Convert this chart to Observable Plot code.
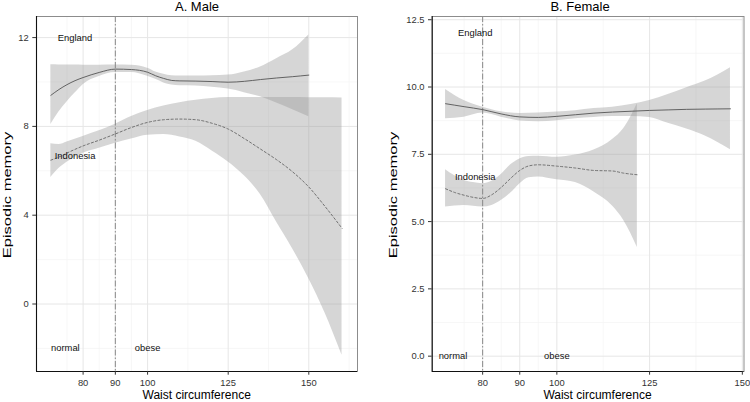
<!DOCTYPE html>
<html><head><meta charset="utf-8">
<script src="https://cdn.jsdelivr.net/npm/d3@7"></script>
<script src="https://cdn.jsdelivr.net/npm/@observablehq/plot@0.6"></script>
<style>
body{margin:0;background:#fff;font-family:"Liberation Sans",Arial,sans-serif;}
#wrap{position:relative;width:750px;height:402px;overflow:hidden;background:#fff}
#wrap svg{position:absolute;top:0}
.lab{position:absolute;white-space:nowrap;color:#000;line-height:1.117}
.rot{line-height:1}
</style></head><body><div id="wrap"></div>
<script>
// ---------- Male panel data ----------
const maleEngX   = [70, 72.5, 75, 77.5, 80, 85, 90, 95, 100, 102.5, 105, 107.5, 110, 115, 120, 125, 130, 135, 140, 145, 150];
const maleEngFit = [9.40, 9.66, 9.88, 10.06, 10.20, 10.43, 10.58, 10.56, 10.44, 10.28, 10.16, 10.07, 10.05, 10.04, 10.02, 9.99, 10.03, 10.11, 10.18, 10.24, 10.31];
const maleEngHi  = [10.78, 10.77, 10.76, 10.76, 10.75, 10.75, 10.76, 10.75, 10.62, 10.45, 10.35, 10.28, 10.27, 10.27, 10.28, 10.31, 10.45, 10.68, 11.05, 11.45, 12.12];
const maleEngLo  = [8.09, 8.65, 9.10, 9.50, 9.88, 10.25, 10.43, 10.43, 10.26, 10.12, 9.96, 9.87, 9.83, 9.82, 9.76, 9.68, 9.52, 9.33, 9.05, 8.75, 8.44];

const maleIndX   = [70, 72.5, 75, 80, 85, 90, 95, 100, 105, 110, 115, 120, 125, 130, 135, 140, 145, 150, 155, 160.3];
const maleIndFit = [6.48, 6.62, 6.80, 7.12, 7.38, 7.66, 7.95, 8.18, 8.30, 8.33, 8.30, 8.14, 7.88, 7.45, 6.98, 6.50, 5.95, 5.27, 4.40, 3.41];
const maleIndHi  = [7.22, 7.18, 7.30, 7.55, 7.80, 8.10, 8.45, 8.72, 8.92, 9.07, 9.18, 9.26, 9.30, 9.30, 9.30, 9.30, 9.30, 9.29, 9.29, 9.28];
const maleIndLo  = [5.70, 6.10, 6.38, 6.79, 7.02, 7.24, 7.43, 7.60, 7.63, 7.52, 7.33, 6.89, 6.40, 5.78, 4.93, 3.69, 2.48, 1.14, -0.39, -2.31];

// ---------- Female panel data ----------
const femEngX   = [70, 75, 80, 85, 90, 95, 100, 105, 110, 115, 120, 125, 130, 135, 140, 146.8];
const femEngFit = [9.38, 9.27, 9.16, 9.00, 8.89, 8.87, 8.91, 8.97, 9.03, 9.07, 9.10, 9.13, 9.15, 9.17, 9.18, 9.19];
const femEngHi  = [9.91, 9.50, 9.25, 9.08, 9.02, 9.03, 9.07, 9.12, 9.20, 9.25, 9.35, 9.50, 9.72, 9.97, 10.22, 10.72];
const femEngLo  = [8.82, 8.88, 9.03, 8.88, 8.74, 8.71, 8.75, 8.82, 8.87, 8.90, 8.90, 8.87, 8.65, 8.44, 8.18, 7.67];

const femIndX   = [70, 72.5, 75, 77.5, 80, 82.5, 85, 87.5, 90, 92.5, 95, 100, 105, 110, 115, 118, 121.7];
const femIndFit = [6.22, 6.08, 5.98, 5.90, 5.86, 6.00, 6.27, 6.60, 6.90, 7.07, 7.11, 7.06, 6.99, 6.90, 6.88, 6.80, 6.74];
const femIndHi  = [6.93, 6.70, 6.53, 6.45, 6.41, 6.50, 6.75, 7.10, 7.33, 7.42, 7.43, 7.39, 7.47, 7.66, 8.05, 8.45, 9.38];
const femIndLo  = [5.54, 5.58, 5.60, 5.57, 5.54, 5.60, 5.78, 6.05, 6.40, 6.63, 6.66, 6.55, 6.45, 6.10, 5.58, 5.05, 4.04];

// ---------- ticks & annotations ----------
const xTicks = [80, 90, 100, 125, 150];
const xMinor = [75, 85, 95, 112.5, 137.5, 162.5];
const maleYTicks = [0, 4, 8, 12];
const maleYMinor = [-2, 2, 6, 10];
const femYTicks = [0, 2.5, 5, 7.5, 10, 12.5];
const femYMinor = [1.25, 3.75, 6.25, 8.75, 11.25];

const maleCut = 90, femCut = 80;
const maleLabels = [
  {x: 77.5, y: 12, t: "England"}, {x: 77.5, y: 6.65, t: "Indonesia"},
  {x: 74.5, y: -2, t: "normal"}, {x: 100, y: -2, t: "obese"}
];
const femLabels = [
  {x: 78, y: 12, t: "England"}, {x: 78, y: 6.65, t: "Indonesia"},
  {x: 72, y: 0, t: "normal"}, {x: 100, y: 0, t: "obese"}
];

const zip = (xs, fit, lo, hi) => xs.map((x, i) => ({x, fit: fit[i], lo: lo[i], hi: hi[i]}));

function panel({eng, ind, cut, labels, xDomain, yDomain, yTicks, yMinor, yFormat, ml, mr}) {
  const font = "Liberation Sans, Arial, sans-serif";
  return Plot.plot({
    width: 375, height: 402,
    marginTop: 16, marginBottom: 31, marginLeft: ml, marginRight: mr,
    x: {domain: xDomain},
    y: {domain: yDomain},
    style: {fontFamily: font, background: "transparent", overflow: "visible"},
    marks: [
      Plot.gridX(xMinor.filter(d => d > xDomain[0] && d < xDomain[1]), {stroke: "#f3f3f3", strokeOpacity: 1, strokeWidth: 0.7}),
      Plot.gridY(yMinor, {stroke: "#f3f3f3", strokeOpacity: 1, strokeWidth: 0.7}),
      Plot.gridX(xTicks, {stroke: "#e6e6e6", strokeOpacity: 1, strokeWidth: 1}),
      Plot.gridY(yTicks, {stroke: "#e6e6e6", strokeOpacity: 1, strokeWidth: 1}),
      Plot.areaY(eng, {x: "x", y1: "lo", y2: "hi", fill: "#999999", fillOpacity: 0.4, curve: "monotone-x"}),
      Plot.areaY(ind, {x: "x", y1: "lo", y2: "hi", fill: "#999999", fillOpacity: 0.4, curve: "monotone-x"}),
      Plot.ruleX([cut], {stroke: "#8a8a8a", strokeWidth: 1, strokeDasharray: "6,2,1.5,2"}),
      Plot.line(eng, {x: "x", y: "fit", stroke: "#555", strokeWidth: 0.9, curve: "monotone-x"}),
      Plot.line(ind, {x: "x", y: "fit", stroke: "#666", strokeWidth: 0.9, strokeDasharray: "2.2,2.2", curve: "monotone-x"}),
      Plot.text(labels, {x: "x", y: "y", text: "t", fontSize: 9.4, fill: "#111", textAnchor: "middle", lineAnchor: "middle", fontFamily: font}),
      Plot.frame({stroke: "#8c8c8c", strokeWidth: 1}),
      Plot.ruleX([xDomain[0]], {stroke: "#111", strokeWidth: 1.1}),
      Plot.ruleY([yDomain[0]], {stroke: "#111", strokeWidth: 1.1}),
      Plot.axisX(xTicks, {tickSize: 3.7, tickPadding: 4.5, fontSize: 9.4, color: "#333", label: null, tickFormat: d => String(d), fontFamily: font}),
      Plot.axisY(yTicks, {tickSize: 3.7, tickPadding: 4, fontSize: 9.4, color: "#333", label: null, tickFormat: yFormat, fontFamily: font})
    ]
  });
}

const wrap = document.getElementById("wrap");
const male = panel({
  eng: zip(maleEngX, maleEngFit, maleEngLo, maleEngHi),
  ind: zip(maleIndX, maleIndFit, maleIndLo, maleIndHi),
  cut: maleCut, labels: maleLabels,
  xDomain: [65.55, 165.1], yDomain: [-3.04, 12.95],
  yTicks: maleYTicks, yMinor: maleYMinor, yFormat: d => String(d),
  ml: 36, mr: 18
});
male.style.left = "0px";
wrap.appendChild(male);

const fem = panel({
  eng: zip(femEngX, femEngFit, femEngLo, femEngHi),
  ind: zip(femIndX, femIndFit, femIndLo, femIndHi),
  cut: femCut, labels: femLabels,
  xDomain: [66.4, 150.45], yDomain: [-0.57, 12.62],
  yTicks: femYTicks, yMinor: femYMinor, yFormat: d3.format(".1f"),
  ml: 56.7, mr: 6.5
});
fem.style.left = "375px";
wrap.appendChild(fem);

function label(text, cx, baseline, size, rotate, stretch) {
  const d = document.createElement("div");
  d.className = rotate ? "lab rot" : "lab";
  d.textContent = text;
  d.style.fontSize = size + "px";
  d.style.left = cx + "px";
  if (rotate) {
    d.style.top = baseline + "px";
    d.style.transform = "translate(-50%,-50%) rotate(-90deg) scaleX(" + (stretch || 1) + ")";
  } else {
    d.style.top = (baseline - 0.905 * size) + "px";
    d.style.transform = "translateX(-50%)";
  }
  wrap.appendChild(d);
}
label("A. Male", 197, 11.8, 13, false);
label("B. Female", 580, 11.8, 13, false);
label("Waist circumference", 196.7, 400, 12, false);
label("Waist circumference", 597.5, 400, 12, false);
label("Episodic memory", 6.5, 195, 11, true, 1.5);
label("Episodic memory", 393, 195, 11, true, 1.5);
</script></body></html>
